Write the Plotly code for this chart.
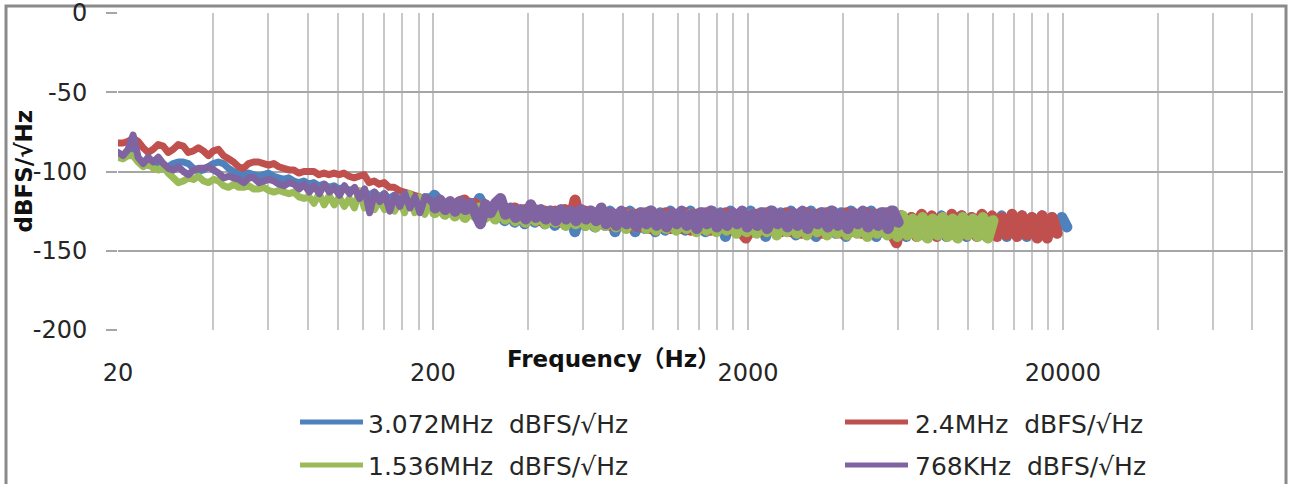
import numpy as np
import plotly.graph_objects as go

# ---------------- data ----------------
F_START = 20
series_names = ["3.072MHz  dBFS/√Hz", "2.4MHz  dBFS/√Hz",
                "1.536MHz  dBFS/√Hz", "768KHz  dBFS/√Hz"]
series_colors = ["#4F81BD", "#C0504D", "#9BBB59", "#8064A2"]
series_end_hz = [20600, 19200, 12000, 6000]

blue_db = [
    -89, -91, -88, -82, -92, -94, -96, -95, -96, -96,
    -97, -95, -94, -94, -95, -98, -100, -99, -97, -95,
    -94, -95, -98, -100, -101, -102, -101, -102, -103, -102,
    -101, -103, -104, -105, -104, -106, -107, -106, -108, -107,
    -109, -108, -110, -109, -111, -110, -112, -111, -113, -112,
    -115, -113, -116, -114, -117, -115, -117, -116, -118, -117,
    -118, -116, -116, -115, -119, -121, -120, -122, -121, -123,
    -122, -123, -117, -123, -125, -124, -126, -131, -125, -132,
    -126, -133, -125, -132, -126, -133, -125, -134, -126, -133,
    -125, -138, -126, -134, -125, -135, -126, -134, -125, -138,
    -126, -135, -125, -138, -126, -136, -125, -138, -126, -137,
    -125, -136, -126, -137, -125, -136, -126, -138, -125, -137,
    -126, -141, -125, -137, -126, -138, -125, -137, -126, -141,
    -125, -138, -126, -137, -125, -140, -126, -138, -125, -141,
    -126, -138, -125, -139, -126, -141, -125, -138, -126, -139,
    -125, -141, -126, -139, -125, -138, -128, -141, -129, -139,
    -128, -141, -129, -140, -128, -141, -129, -139, -128, -141,
    -129, -140, -128, -141, -129, -140, -128, -141, -129, -140,
    -128, -141, -129, -140, -128, -137, -129, -136, -129, -135,
]

red_db = [
    -82, -82, -81, -79, -81, -85, -88, -86, -83, -84,
    -88, -86, -83, -84, -88, -87, -85, -87, -90, -87,
    -86, -90, -92, -94, -97, -98, -95, -94, -94, -95,
    -96, -95, -97, -98, -99, -99, -101, -100, -100, -100,
    -102, -101, -102, -101, -102, -101, -103, -104, -103, -102,
    -107, -106, -108, -107, -110, -110, -112, -113, -114, -115,
    -116, -117, -118, -121, -119, -123, -120, -122, -119, -118,
    -123, -120, -125, -121, -126, -122, -127, -123, -128, -123,
    -129, -124, -130, -124, -131, -125, -131, -125, -132, -124,
    -132, -118, -132, -125, -133, -126, -133, -126, -134, -127,
    -134, -126, -135, -127, -135, -126, -136, -127, -135, -126,
    -136, -127, -136, -126, -137, -127, -136, -126, -137, -127,
    -136, -126, -137, -127, -138, -142, -137, -127, -138, -126,
    -137, -127, -138, -126, -138, -127, -139, -126, -138, -127,
    -139, -126, -138, -127, -139, -126, -138, -127, -139, -126,
    -139, -127, -138, -126, -139, -145, -128, -140, -129, -141,
    -127, -140, -128, -141, -129, -140, -127, -141, -128, -140,
    -129, -141, -127, -140, -128, -141, -129, -140, -127, -141,
    -128, -140, -129, -142, -128, -142, -129, -139,
]

green_db = [
    -91, -92, -90, -90, -94, -97, -95, -98, -99, -97,
    -101, -104, -107, -106, -104, -105, -103, -106, -107, -105,
    -106, -109, -110, -108, -110, -110, -109, -111, -111, -110,
    -112, -113, -112, -113, -114, -113, -116, -117, -116, -120,
    -114, -121, -115, -121, -116, -122, -117, -123, -112, -123,
    -118, -124, -118, -124, -119, -125, -119, -126, -114, -126,
    -116, -127, -120, -126, -121, -127, -122, -128, -122, -129,
    -123, -128, -123, -129, -124, -130, -124, -130, -125, -131,
    -125, -132, -126, -131, -126, -133, -126, -132, -127, -134,
    -126, -133, -127, -134, -127, -135, -126, -134, -127, -135,
    -128, -136, -127, -135, -128, -136, -127, -137, -128, -136,
    -127, -137, -128, -136, -127, -138, -128, -137, -127, -138,
    -128, -137, -129, -139, -128, -138, -127, -139, -128, -138,
    -129, -140, -128, -138, -127, -139, -128, -140, -129, -138,
    -128, -140, -127, -139, -128, -140, -129, -139, -128, -141,
    -129, -139, -128, -140, -129, -141, -128, -140, -130, -141,
    -129, -142, -130, -140, -129, -141, -130, -142, -129, -140,
    -130, -141, -129, -142, -131,
]

purple_db = [
    -88, -90, -86, -77, -91, -95, -91, -94, -91, -95,
    -98, -99, -97, -100, -102, -99, -98, -98, -97, -99,
    -101, -104, -103, -104, -105, -107, -104, -104, -107, -106,
    -105, -106, -108, -109, -107, -108, -111, -108, -113, -109,
    -114, -108, -113, -110, -115, -109, -114, -110, -117, -111,
    -126, -113, -119, -114, -125, -115, -122, -114, -123, -116,
    -126, -116, -118, -123, -118, -124, -119, -125, -119, -124,
    -120, -126, -133, -121, -126, -120, -117, -127, -123, -129,
    -124, -130, -121, -129, -124, -130, -125, -131, -124, -130,
    -125, -131, -124, -130, -125, -131, -123, -133, -126, -134,
    -125, -133, -127, -135, -126, -133, -125, -134, -127, -135,
    -126, -133, -125, -134, -127, -136, -126, -133, -125, -135,
    -127, -134, -126, -133, -125, -135, -127, -134, -126, -136,
    -125, -133, -127, -135, -126, -134, -125, -136, -127, -133,
    -126, -135, -125, -134, -127, -136, -126, -133, -125, -135,
    -127, -134, -126, -136, -125, -132,
]

series_values = [blue_db, red_db, green_db, purple_db]

x_major_ticks = [20, 200, 2000, 20000]
x_minor_grid = ([20 * k for k in range(2, 10)] + [200 * k for k in range(2, 10)]
                + [2000 * k for k in range(2, 10)] + [40000, 60000, 80000, 100000])
y_ticks = [-200, -150, -100, -50, 0]
y_tick_text = ["-200", "-150", "-100", "-50", "0"]
DENSE_FROM_HZ = 200  # above this the noise is drawn as a dense band

# ---------------- layout geometry ----------------
W, H = 1292, 484
L, R, T, B = 118, 9, 13, 154
PW, PH = W - L - R, H - T - B


def px_x(px):
    return (px - L) / PW


def px_y(py):
    return (H - B - py) / PH


fig = go.Figure()
for name, color, end, vals in zip(series_names, series_colors, series_end_hz, series_values):
    freqs = np.geomspace(F_START, end, len(vals))
    vals = np.asarray(vals, dtype=float)
    split = int(np.searchsorted(freqs, DENSE_FROM_HZ))
    fig.add_trace(go.Scatter(x=freqs[:split + 1], y=vals[:split + 1], mode="lines",
                             name=name, line=dict(color=color, width=7, simplify=False),
                             showlegend=False))
    fig.add_trace(go.Scatter(x=freqs[split:], y=vals[split:], mode="lines",
                             name=name, line=dict(color=color, width=11, simplify=False),
                             showlegend=False))

TXT = "#262626"
fig.update_layout(
    width=W, height=H,
    margin=dict(l=L, r=R, t=T, b=B, autoexpand=False),
    paper_bgcolor="white", plot_bgcolor="white",
    font=dict(family="DejaVu Sans", size=24, color=TXT),
    showlegend=False,
)
fig.update_xaxes(
    type="log",
    range=[np.log10(20) - 1e-6, np.log10(100000) + 1e-6],
    tickmode="array", tickvals=x_major_ticks,
    ticktext=[str(v) for v in x_major_ticks],
    showgrid=True, gridcolor="#c4c4c4", gridwidth=2,
    ticks="", ticklabelstandoff=26,
    zeroline=False, showline=False,
    tickfont=dict(size=24, color=TXT),
    minor=dict(tickmode="array", tickvals=x_minor_grid, showgrid=True,
               gridcolor="#c8c8c8", gridwidth=2, ticks=""),
)
fig.update_yaxes(
    range=[-200, 0], tickmode="array", tickvals=y_ticks, ticktext=y_tick_text,
    showgrid=True, gridcolor="#a6a6a6", gridwidth=2,
    ticks="outside", ticklen=11, tickwidth=2, tickcolor="#a6a6a6",
    ticklabelstandoff=14, ticklabeloverflow="allow",
    zeroline=False, showline=False,
    tickfont=dict(size=24, color=TXT),
)

shapes = [dict(type="rect", xref="paper", yref="paper",
               x0=px_x(6), x1=px_x(1286), y0=px_y(520), y1=px_y(6),
               line=dict(color="#8a8a8a", width=3), layer="below")]
annotations = [
    dict(text="<b>dBFS/√Hz</b>", xref="paper", yref="paper",
         x=px_x(23), y=0.5, xanchor="center", yanchor="middle",
         textangle=-90, showarrow=False,
         font=dict(size=23, color="#111", family="DejaVu Sans")),
    dict(text="<b>Frequency（Hz）</b>", xref="paper", yref="paper",
         x=px_x(613), y=px_y(359), xanchor="center", yanchor="middle",
         showarrow=False,
         font=dict(size=23, color="#111", family="DejaVu Sans, Noto Sans CJK SC")),
]

leg_line_x = [(300, 363), (845, 908)]
leg_text_x = [366, 913]
leg_line_y = [422, 465]
leg_text_y = [424.5, 466.5]
for i, (name, color) in enumerate(zip(series_names, series_colors)):
    row, col = divmod(i, 2)
    shapes.append(dict(type="line", xref="paper", yref="paper",
                       x0=px_x(leg_line_x[col][0]), x1=px_x(leg_line_x[col][1]),
                       y0=px_y(leg_line_y[row]), y1=px_y(leg_line_y[row]),
                       line=dict(color=color, width=5)))
    annotations.append(dict(text=name.replace("  ", "\u00a0 "), xref="paper", yref="paper",
                            x=px_x(leg_text_x[col]), y=px_y(leg_text_y[row]),
                            xanchor="left", yanchor="middle", showarrow=False,
                            font=dict(size=25, color=TXT, family="DejaVu Sans")))

fig.update_layout(shapes=shapes, annotations=annotations)

post = (
    "document.body.style.margin='0';"
    "document.querySelectorAll('.scatterlayer path.js-line').forEach(function(p){"
    "p.style.strokeLinejoin='round';p.style.strokeLinecap='round';});"
)
fig.write_html("out.html", config={"displayModeBar": False}, post_script=post)
